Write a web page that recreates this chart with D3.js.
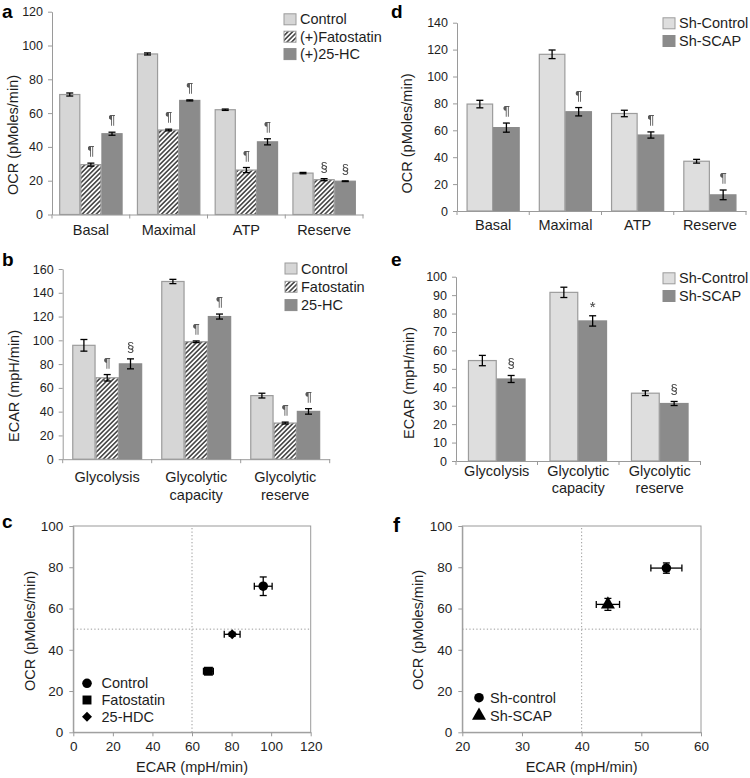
<!DOCTYPE html>
<html><head><meta charset="utf-8">
<script src="https://cdn.jsdelivr.net/npm/d3@7"></script>
<style>
body{margin:0;background:#fff}
svg{display:block}
text{font-family:"Liberation Sans",Arial,Helvetica,sans-serif}
</style>
</head><body>
<svg id="chart" width="750" height="778"></svg>
<script>
// ---------------- DATA ----------------
// Panel a: OCR
const catsOCR = ["Basal", "Maximal", "ATP", "Reserve"];
const seriesA = ["Control", "(+)Fatostatin", "(+)25-HC"];
const ocrA_control = [71, 95, 62, 24.5];
const ocrA_fato    = [29.5, 50, 26.3, 20.6];
const ocrA_hc      = [47.8, 67.5, 43, 19.7];
const errA_control = [0.9, 0.6, 0.4, 0.4];
const errA_fato    = [0.9, 0.5, 1.5, 0.6];
const errA_hc      = [0.9, 0.3, 1.8, 0.2];
const sigA_control = ["", "", "", ""];
const sigA_fato    = ["¶", "¶", "¶", "§"];
const sigA_hc      = ["¶", "¶", "¶", "§"];
const ticksA = [0, 20, 40, 60, 80, 100, 120];

// Panel b: ECAR
const catsECAR = ["Glycolysis", "Glycolytic capacity", "Glycolytic reserve"];
const seriesB = ["Control", "Fatostatin", "25-HC"];
const ecarB_control = [95.8, 149.5, 53.5];
const ecarB_fato    = [68.5, 98.8, 30.4];
const ecarB_hc      = [80.2, 120, 40.2];
const errB_control  = [4.9, 1.8, 2];
const errB_fato     = [2.7, 0.7, 0.8];
const errB_hc       = [4.2, 2.1, 2.3];
const sigB_control  = ["", "", ""];
const sigB_fato     = ["¶", "¶", "¶"];
const sigB_hc       = ["§", "¶", "¶"];
const ticksB = [0, 20, 40, 60, 80, 100, 120, 140, 160];

// Panel d: OCR sh
const seriesD = ["Sh-Control", "Sh-SCAP"];
const ocrD_control = [79.5, 116.5, 72.5, 37];
const ocrD_scap    = [62, 73.8, 56.5, 12];
const errD_control = [2.8, 3.2, 2.4, 1.4];
const errD_scap    = [3.4, 3.1, 2.3, 3.6];
const sigD_control = ["", "", "", ""];
const sigD_scap    = ["¶", "¶", "¶", "¶"];
const ticksD = [0, 20, 40, 60, 80, 100, 120, 140];

// Panel e: ECAR sh
const seriesE = ["Sh-Control", "Sh-SCAP"];
const ecarE_control = [54.5, 91.5, 36.8];
const ecarE_scap    = [44.5, 76, 31.2];
const errE_control  = [2.8, 2.8, 1.3];
const errE_scap     = [1.9, 2.8, 1.1];
const sigE_control  = ["", "", ""];
const sigE_scap     = ["§", "*", "§"];
const ticksE = [0, 10, 20, 30, 40, 50, 60, 70, 80, 90, 100];

// Panel c: scatter
const namesC = ["Control", "Fatostatin", "25-HDC"];
const shapesC = ["circle", "square", "diamond"];
const ecarC = [96, 68.3, 80.3];
const ocrC  = [70.8, 29.6, 47.5];
const xerrC = [4.5, 2.5, 4];
const yerrC = [4.5, 1, 1];
const ticksCx = [0, 20, 40, 60, 80, 100, 120];
const ticksCy = [0, 20, 40, 60, 80, 100];

// Panel f: scatter
const namesF = ["Sh-control", "Sh-SCAP"];
const shapesF = ["circle", "triangle"];
const ecarF = [54.2, 44.4];
const ocrF  = [79.6, 62];
const xerrF = [2.6, 1.95];
const yerrF = [2.5, 2.9];
const ticksFx = [20, 30, 40, 50, 60];
const ticksFy = [0, 20, 40, 60, 80, 100];

// ---------------- DRAWING ----------------
const svg = d3.select("#chart");
const AXIS = "#9a9a9a", TXT = "#1e1e1e";
const LIGHT = "#d6d6d6", LIGHT2 = "#dedede", DARK = "#8b8b8b", OUTL = "#9c9c9c";

const defs = svg.append("defs");
const pat = defs.append("pattern").attr("id", "hatch")
  .attr("patternUnits", "userSpaceOnUse").attr("width", 3.3).attr("height", 3.3)
  .attr("patternTransform", "rotate(45)");
pat.append("rect").attr("width", 3.3).attr("height", 3.3).attr("fill", "#fff");
pat.append("line").attr("x1", 1.65).attr("y1", 0).attr("x2", 1.65).attr("y2", 3.3)
  .attr("stroke", "#111").attr("stroke-width", 1.25);
// force glyphs to a plain dark gray (keeps only their alpha)
defs.append("filter").attr("id", "mono")
  .append("feColorMatrix").attr("type", "matrix")
  .attr("values", "0 0 0 0 0.1  0 0 0 0 0.1  0 0 0 0 0.1  0 0 0 1.25 0");

function styleAxis(sel) {
  sel.select(".domain").attr("stroke", AXIS).attr("stroke-width", 1);
  sel.selectAll(".tick line").attr("stroke", AXIS);
  sel.selectAll(".tick text").attr("fill", TXT).style("font-size", "12.5px")
     .style("font-family", '"Liberation Sans",Arial,sans-serif');
}

function panelLetter(t, x, y, size) {
  svg.append("text").attr("x", x).attr("y", y).text(t)
    .style("font-size", size + "px").style("font-weight", "bold").attr("fill", "#000");
}

function barPanel(cfg) {
  const g = svg.append("g");
  const xg = d3.scaleBand().domain(cfg.cats).range([cfg.x0, cfg.x1]);
  const xs = d3.scaleBand().domain(cfg.series.map(s => s.name))
    .range([0, xg.bandwidth()]).paddingInner(0).paddingOuter(cfg.pad);
  const y = d3.scaleLinear().domain([0, cfg.yMax]).range([cfg.y0, cfg.yTop]);

  cfg.series.forEach(s => {
    g.append("g").selectAll("rect").data(s.values).join("rect")
      .attr("x", (d, i) => xg(cfg.cats[i]) + xs(s.name) + 0.5)
      .attr("y", d => y(d))
      .attr("width", xs.bandwidth() - 1)
      .attr("height", d => cfg.y0 - y(d))
      .attr("fill", s.fill)
      .attr("stroke", s.stroke)
      .attr("stroke-width", 1.2);
  });
  cfg.series.forEach(s => {
    s.values.forEach((v, i) => {
      const cx = xg(cfg.cats[i]) + xs(s.name) + xs.bandwidth() / 2;
      const e = s.errs[i];
      const eg = g.append("g").attr("stroke", "#000").attr("stroke-width", 1.3);
      eg.append("line").attr("x1", cx).attr("x2", cx).attr("y1", y(v - e)).attr("y2", y(v + e));
      [v - e, v + e].forEach(t => eg.append("line")
        .attr("x1", cx - 3.5).attr("x2", cx + 3.5).attr("y1", y(t)).attr("y2", y(t)));
      if (s.sig[i]) {
        const isStar = s.sig[i] === "*";
        g.append("text").attr("x", cx).attr("y", y(v + e) - (isStar ? 4 : 8))
          .attr("text-anchor", "middle").attr("fill", "#222")
          .attr("filter", "url(#mono)")
          .style("font-size", isStar ? "15px" : "13px").text(s.sig[i]);
      }
    });
  });
  const ya = g.append("g").attr("transform", `translate(${cfg.x0},0)`)
    .call(d3.axisLeft(y).tickValues(cfg.ticks).tickSize(4).tickPadding(5).tickSizeOuter(0));
  styleAxis(ya);
  const xa = g.append("g").attr("transform", `translate(0,${cfg.y0})`)
    .call(d3.axisBottom(xg).tickSize(0).tickFormat(""));
  xa.select(".domain").attr("stroke", AXIS);
  const bounds = cfg.cats.map(c => xg(c)).concat([cfg.x1]);
  g.append("g").selectAll("line").data(bounds).join("line")
    .attr("x1", d => d).attr("x2", d => d)
    .attr("y1", cfg.y0).attr("y2", cfg.y0 + 4).attr("stroke", AXIS);
  cfg.cats.forEach(c => {
    const parts = c.indexOf(" ") > 0 ? [c.slice(0, c.indexOf(" ")), c.slice(c.indexOf(" ") + 1)] : [c];
    const t = g.append("text").attr("text-anchor", "middle").attr("fill", TXT)
      .style("font-size", "14.5px");
    parts.forEach((p, k) => t.append("tspan")
      .attr("x", xg(c) + xg.bandwidth() / 2)
      .attr("y", cfg.y0 + cfg.labOff + k * cfg.labLine).text(p));
  });
  g.append("text").attr("transform", `translate(${cfg.tx},${cfg.ty}) rotate(-90)`)
    .attr("text-anchor", "middle").attr("fill", TXT).style("font-size", "14.5px")
    .text(cfg.title);
  cfg.series.forEach((s, i) => {
    const by = cfg.legY + i * cfg.legStep;
    g.append("rect").attr("x", cfg.legX).attr("y", by - 10.5).attr("width", 12).attr("height", 11)
      .attr("fill", s.fill).attr("stroke", s.stroke).attr("stroke-width", 1);
    g.append("text").attr("x", cfg.legX + 16).attr("y", by).attr("fill", TXT)
      .style("font-size", "14.5px").text(s.name);
  });
}

function symbolPath(shape) {
  const map = {circle: [d3.symbolCircle, 72], square: [d3.symbolSquare, 80],
               diamond: [d3.symbolSquare, 50], triangle: [d3.symbolTriangle, 85]};
  return d3.symbol().type(map[shape][0]).size(map[shape][1])();
}
function symbolRot(shape) { return shape === "diamond" ? " rotate(45)" : ""; }

function scatterPanel(cfg) {
  const g = svg.append("g");
  const x = d3.scaleLinear().domain(cfg.xd).range([cfg.x0, cfg.x1]);
  const y = d3.scaleLinear().domain(cfg.yd).range([cfg.y0, cfg.y1]);
  g.append("rect").attr("x", cfg.x0).attr("y", cfg.y1).attr("width", cfg.x1 - cfg.x0)
    .attr("height", cfg.y0 - cfg.y1).attr("fill", "none").attr("stroke", AXIS);
  g.append("line").attr("x1", x(cfg.vx)).attr("x2", x(cfg.vx)).attr("y1", cfg.y0).attr("y2", cfg.y1)
    .attr("stroke", "#9a9a9a").attr("stroke-dasharray", "1.3,2.2");
  g.append("line").attr("x1", cfg.x0).attr("x2", cfg.x1).attr("y1", y(cfg.hy)).attr("y2", y(cfg.hy))
    .attr("stroke", "#9a9a9a").attr("stroke-dasharray", "1.3,2.2");
  const xa = g.append("g").attr("transform", `translate(0,${cfg.y0})`)
    .call(d3.axisBottom(x).tickValues(cfg.xt).tickSize(4).tickPadding(5).tickSizeOuter(0));
  styleAxis(xa);
  xa.selectAll(".tick text").style("font-size", "13.5px");
  const ya = g.append("g").attr("transform", `translate(${cfg.x0},0)`)
    .call(d3.axisLeft(y).tickValues(cfg.yt).tickSize(4).tickPadding(6).tickSizeOuter(0));
  styleAxis(ya);
  ya.selectAll(".tick text").style("font-size", "13.5px");
  cfg.xs.forEach((xv, i) => {
    const yv = cfg.ys[i], ex = cfg.xe[i], ey = cfg.ye[i];
    const eg = g.append("g").attr("stroke", "#000").attr("stroke-width", 1.3);
    eg.append("line").attr("x1", x(xv - ex)).attr("x2", x(xv + ex)).attr("y1", y(yv)).attr("y2", y(yv));
    [xv - ex, xv + ex].forEach(t => eg.append("line").attr("x1", x(t)).attr("x2", x(t))
      .attr("y1", y(yv) - 3.5).attr("y2", y(yv) + 3.5));
    eg.append("line").attr("x1", x(xv)).attr("x2", x(xv)).attr("y1", y(yv - ey)).attr("y2", y(yv + ey));
    [yv - ey, yv + ey].forEach(t => eg.append("line").attr("x1", x(xv) - 3.5).attr("x2", x(xv) + 3.5)
      .attr("y1", y(t)).attr("y2", y(t)));
    g.append("path").attr("d", symbolPath(cfg.shapes[i]))
      .attr("transform", `translate(${x(xv)},${y(yv)})` + symbolRot(cfg.shapes[i])).attr("fill", "#000");
  });
  g.append("text").attr("x", (cfg.x0 + cfg.x1) / 2 + cfg.xtOff).attr("y", cfg.xtY)
    .attr("text-anchor", "middle").attr("fill", TXT).style("font-size", "14.5px").text("ECAR (mpH/min)");
  g.append("text").attr("transform", `translate(${cfg.tx},${cfg.ty}) rotate(-90)`)
    .attr("text-anchor", "middle").attr("fill", TXT).style("font-size", "14.5px").text("OCR (pMoles/min)");
  cfg.names.forEach((n, i) => {
    const by = cfg.legY + i * cfg.legStep;
    g.append("path").attr("d", symbolPath(cfg.shapes[i]))
      .attr("transform", `translate(${cfg.legX},${by - 5})` + symbolRot(cfg.shapes[i])).attr("fill", "#000");
    g.append("text").attr("x", cfg.legTx).attr("y", by).attr("fill", TXT)
      .style("font-size", "14.5px").text(n);
  });
}

// Panel a
barPanel({
  cats: catsOCR, x0: 52, x1: 363, y0: 214.5, yTop: 11.7, yMax: 120, ticks: ticksA, pad: 0.34,
  series: [
    {name: seriesA[0], values: ocrA_control, errs: errA_control, sig: sigA_control, fill: LIGHT, stroke: OUTL},
    {name: seriesA[1], values: ocrA_fato, errs: errA_fato, sig: sigA_fato, fill: "url(#hatch)", stroke: OUTL},
    {name: seriesA[2], values: ocrA_hc, errs: errA_hc, sig: sigA_hc, fill: DARK, stroke: DARK}
  ],
  labOff: 20.5, labLine: 18, title: "OCR (pMoles/min)", tx: 18, ty: 135,
  legX: 284, legY: 24.3, legStep: 17.4
});
// Panel b
barPanel({
  cats: catsECAR, x0: 62.7, x1: 329.7, y0: 459.2, yTop: 269, yMax: 160, ticks: ticksB, pad: 0.41,
  series: [
    {name: seriesB[0], values: ecarB_control, errs: errB_control, sig: sigB_control, fill: LIGHT, stroke: OUTL},
    {name: seriesB[1], values: ecarB_fato, errs: errB_fato, sig: sigB_fato, fill: "url(#hatch)", stroke: OUTL},
    {name: seriesB[2], values: ecarB_hc, errs: errB_hc, sig: sigB_hc, fill: DARK, stroke: DARK}
  ],
  labOff: 22.5, labLine: 18, title: "ECAR (mpH/min)", tx: 19, ty: 386,
  legX: 285, legY: 273.5, legStep: 18.3
});
// Panel d
barPanel({
  cats: catsOCR, x0: 457, x1: 746, y0: 211, yTop: 22.7, yMax: 140, ticks: ticksD, pad: 0.36,
  series: [
    {name: seriesD[0], values: ocrD_control, errs: errD_control, sig: sigD_control, fill: LIGHT2, stroke: OUTL},
    {name: seriesD[1], values: ocrD_scap, errs: errD_scap, sig: sigD_scap, fill: DARK, stroke: DARK}
  ],
  labOff: 19, labLine: 18, title: "OCR (pMoles/min)", tx: 412, ty: 133.5,
  legX: 663, legY: 28.3, legStep: 17.7
});
// Panel e
barPanel({
  cats: catsECAR, x0: 456, x1: 700.5, y0: 461, yTop: 276.7, yMax: 100, ticks: ticksE, pad: 0.415,
  series: [
    {name: seriesE[0], values: ecarE_control, errs: errE_control, sig: sigE_control, fill: LIGHT2, stroke: OUTL},
    {name: seriesE[1], values: ecarE_scap, errs: errE_scap, sig: sigE_scap, fill: DARK, stroke: DARK}
  ],
  labOff: 15, labLine: 17, title: "ECAR (mpH/min)", tx: 414, ty: 383,
  legX: 663, legY: 283.3, legStep: 17.7
});
// Panel c
scatterPanel({
  xd: [0, 120], yd: [0, 100], x0: 73.3, x1: 310.7, y0: 732.3, y1: 526,
  xt: ticksCx, yt: ticksCy, vx: 60, hy: 50,
  xs: ecarC, ys: ocrC, xe: xerrC, ye: yerrC, shapes: shapesC, names: namesC,
  xtOff: 0, xtY: 771.5, tx: 35, ty: 631,
  legX: 87, legTx: 101.5, legY: 688.3, legStep: 16.7
});
// Panel f
scatterPanel({
  xd: [20, 60], yd: [0, 100], x0: 462.3, x1: 701, y0: 732.3, y1: 526,
  xt: ticksFx, yt: ticksFy, vx: 40, hy: 50,
  xs: ecarF, ys: ocrF, xe: xerrF, ye: yerrF, shapes: shapesF, names: namesF,
  xtOff: 0, xtY: 771.5, tx: 423, ty: 630,
  legX: 479, legTx: 490, legY: 702.7, legStep: 18
});

panelLetter("a", 2, 17.5, 19);
panelLetter("b", 2, 266, 19);
panelLetter("c", 2, 528, 19);
panelLetter("d", 391, 17.5, 19);
panelLetter("e", 391, 266, 19);
panelLetter("f", 393, 532, 21);
</script>
</body></html>
